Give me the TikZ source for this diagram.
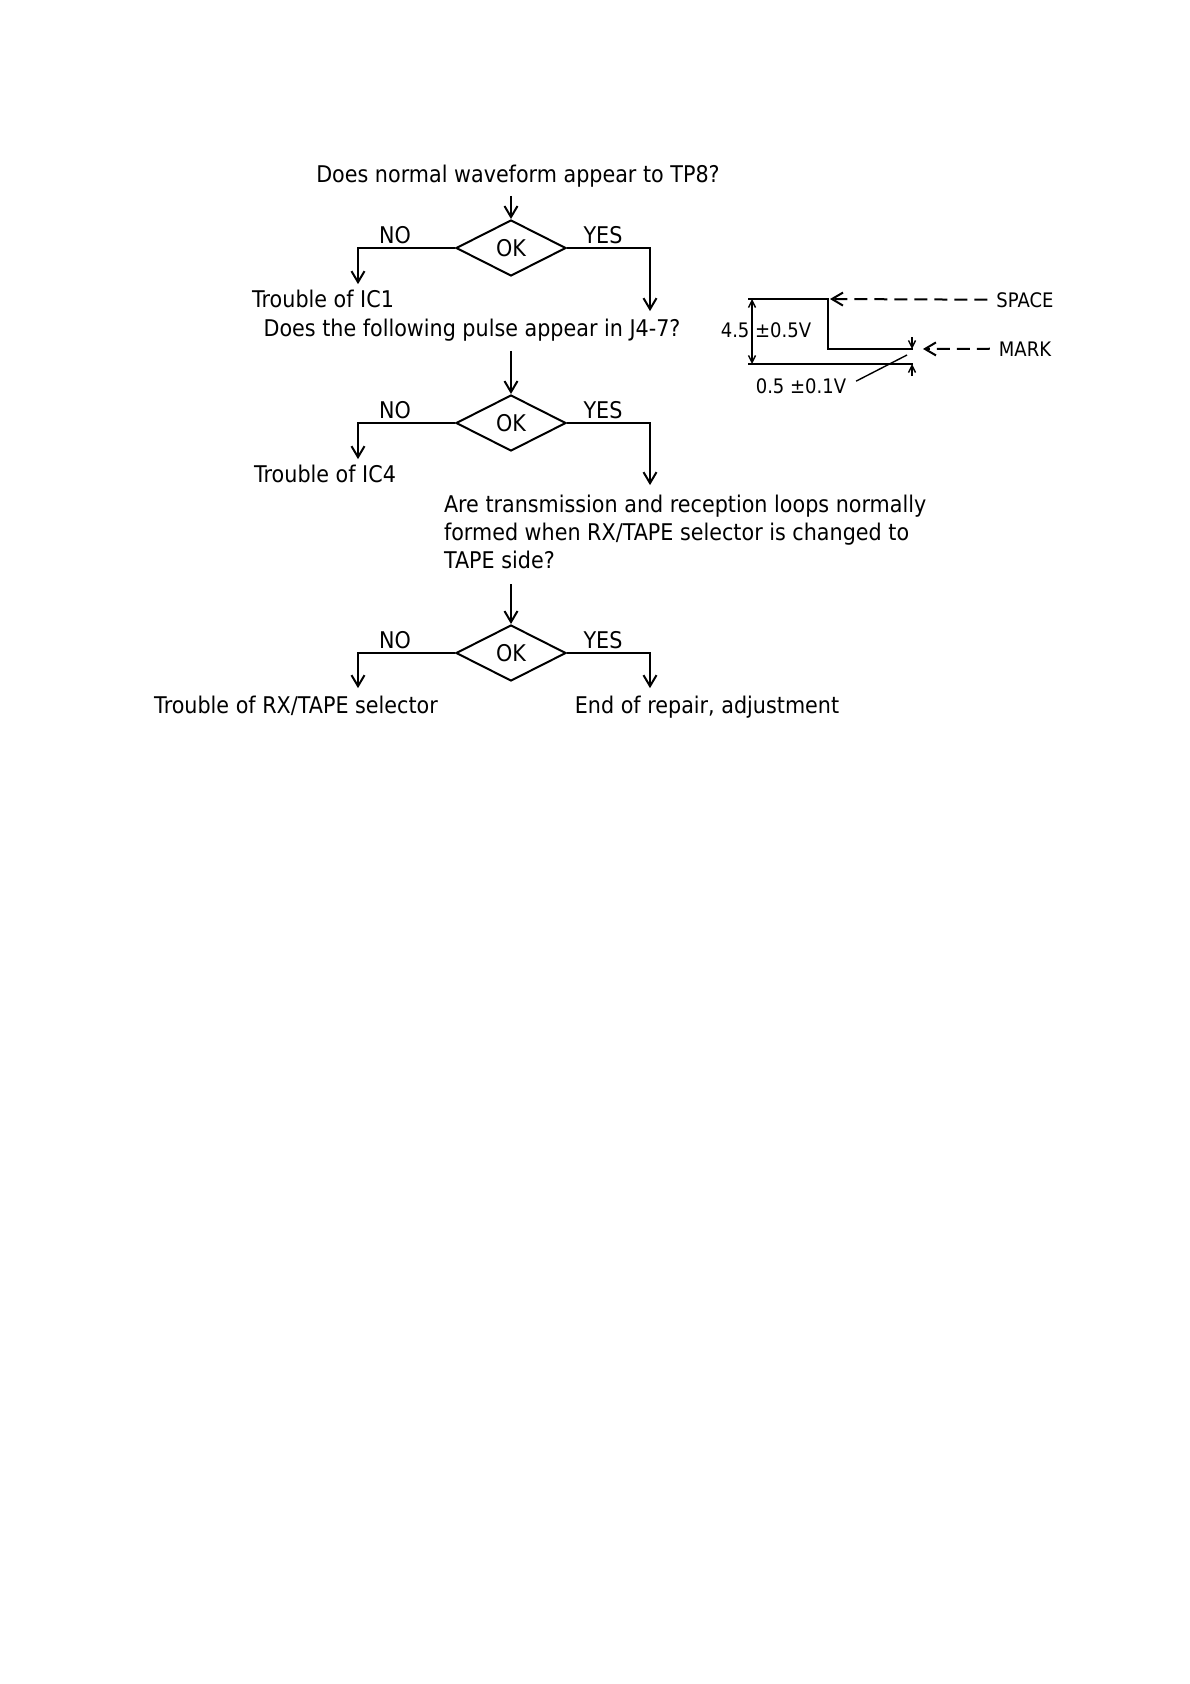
\documentclass[tikz,border=0pt]{standalone}
\usepackage{fontspec}
\setmainfont[FakeStretch=0.9]{DejaVu Sans}
\usetikzlibrary{shapes.geometric,arrows.meta}

\begin{document}
\begin{tikzpicture}[x=0.5bp, y=-0.5bp, line width=1bp,
  font=\fontsize{11.5bp}{14bp}\selectfont,
  txt/.style={inner sep=0pt, anchor=base},
  okbox/.style={draw, diamond, inner sep=0pt, minimum width=55bp, minimum height=28bp},
  arr/.style={-{Straight Barb[length=5.5bp, width=6.5bp]}},
  dimtip/.style={line width=0.7bp, -{Straight Barb[length=3.5bp, width=3.5bp]}},
  dimboth/.style={line width=0.7bp, {Straight Barb[length=3.5bp, width=3.5bp]}-{Straight Barb[length=3.5bp, width=3.5bp]}},
  dsh/.style={dash pattern=on 6.5bp off 3.5bp},
  wlab/.style={txt, font=\fontsize{10bp}{12bp}\selectfont},
]
  \useasboundingbox (0,0) rectangle (1190,1684);

  % first check
  \node[txt] (q1) at (518,182) {Does normal waveform appear to TP8?};
  \node[okbox] (d1) at (511,248) {OK};
  \node[txt] at (395,243) {NO};
  \node[txt] at (603,243) {YES};
  \node[txt] (t1) at (323,307) {Trouble of IC1};
  \draw[arr, shorten <=4bp] (q1.south -| d1.north) -- (d1.north);
  \draw[arr, shorten >=2.2bp] (d1.west) -| ([xshift=17.5bp]t1.north);

  % second check
  \node[txt] (q2) at (472,336) {Does the following pulse appear in J4-7?};
  \node[okbox] (d2) at (511,423) {OK};
  \node[txt] at (395,418) {NO};
  \node[txt] at (603,418) {YES};
  \node[txt] (t2) at (325,482) {Trouble of IC4};
  \draw[arr, shorten >=3.2bp] (d1.east) -| ([xshift=89bp]q2.north);
  \draw[arr, shorten <=4.6bp] (q2.south -| d2.north) -- (d2.north);
  \draw[arr, shorten >=2.2bp] (d2.west) -| ([xshift=16.5bp]t2.north);

  % third check
  \node[anchor=north west, inner sep=0pt, align=left] (q3) at (443,494.5)
    {Are transmission and reception loops normally\\formed when RX/TAPE selector is changed to\\TAPE side?};
  \node[okbox] (d3) at (511,653) {OK};
  \node[txt] at (395,648) {NO};
  \node[txt] at (603,648) {YES};
  \node[txt] (t3) at (296,713) {Trouble of RX/TAPE selector};
  \node[txt] (e3) at (707,713) {End of repair, adjustment};
  \draw[arr, shorten >=4.7bp] (d2.east) -| ([xshift=103.5bp]q3.north west);
  \draw[arr, shorten <=7bp] (q3.south -| d3.north) -- (d3.north);
  \draw[arr, shorten >=3.2bp] (d3.west) -| ([xshift=31bp]t3.north);
  \draw[arr, shorten >=3.2bp] (d3.east) -| ([xshift=-28.5bp]e3.north);

  % pulse at J4-7
  \coordinate (sp) at (828,299);
  \coordinate (mk) at (913,349);
  \draw (748,299) -- (sp) -- (828,349) -- (mk);
  \draw (748,364) -- (913,364);
  \draw[dimboth] (752,299) -- (752,364);
  \draw[dimtip] (912,337) -- (912,349);
  \draw[dimtip] (912,376) -- (912,364);
  \node[wlab] (v45) at (766,337) {4.5 ±0.5V};
  \node[wlab] (v05) at (801,393) {0.5 ±0.1V};
  \draw[line width=0.7bp, shorten <=5bp] (v05.east) -- (907,355);
  \node[wlab] (space) at (1025,307) {SPACE};
  \node[wlab] (mark) at (1025,356) {MARK};
  \draw[dsh, arr, shorten <=4bp, shorten >=1bp] (space.west) -- (sp);
  \draw[dsh, arr, shorten <=4bp, shorten >=5bp] (mark.west) -- (mk);
\end{tikzpicture}
\end{document}
